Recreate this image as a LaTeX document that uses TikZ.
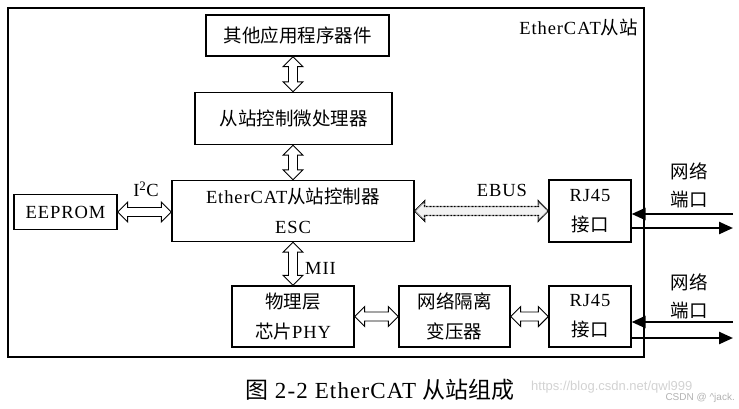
\documentclass[tikz,border=0pt]{standalone}
\usepackage{fontspec}
\setmainfont{Liberation Serif}[LetterSpace=5]
\newfontfamily\cjk{Noto Sans CJK SC}
\newfontfamily\wmfont{Liberation Sans}
\newcommand\zh[1]{{\cjk #1}}
\usetikzlibrary{calc,arrows.meta}
\tikzset{
  box/.style={draw, line width=1.3pt, inner sep=0pt, align=center, font=\fontsize{18.5}{30}\selectfont},
  lbl/.style={inner sep=0pt, font=\fontsize{18.5}{28}\selectfont, align=center},
  dbl/.style={to path={
    (\tikztostart)
    -- ($(\tikztostart)!10pt!(\tikztotarget)!10pt!90:(\tikztotarget)$)
    -- ($(\tikztostart)!10pt!(\tikztotarget)!4.5pt!90:(\tikztotarget)$)
    -- ($(\tikztotarget)!10pt!(\tikztostart)!4.5pt!-90:(\tikztostart)$)
    -- ($(\tikztotarget)!10pt!(\tikztostart)!10pt!-90:(\tikztostart)$)
    -- (\tikztotarget)
    -- ($(\tikztotarget)!10pt!(\tikztostart)!10pt!90:(\tikztostart)$)
    -- ($(\tikztotarget)!10pt!(\tikztostart)!4.5pt!90:(\tikztostart)$)
    -- ($(\tikztostart)!10pt!(\tikztotarget)!4.5pt!-90:(\tikztotarget)$)
    -- ($(\tikztostart)!10pt!(\tikztotarget)!10pt!-90:(\tikztotarget)$)
    -- cycle}},
  dblarrow/.style={dbl, draw, fill=white, line width=0.9pt, line join=miter},
  busarrow/.style={dbl, draw, fill=gray!10, line width=1.4pt, dash pattern=on 0.8pt off 0.6pt, line join=miter},
  netarrow/.style={line width=2.4pt, -{Triangle[length=14pt,width=12pt]}},
}
\begin{document}
\begin{tikzpicture}[x=1pt,y=-1pt]
\useasboundingbox (0,0) rectangle (739,408);
% outer frame
\node[draw, line width=1.3pt, minimum width=636pt, minimum height=349pt, inner sep=0pt] (frame) at (326,182.5) {};
\node[lbl, anchor=east] (slave) at (638,27) {EtherCAT\zh{从站}};

% boxes
\node[box, minimum width=183pt, minimum height=41pt] (app) at (297.5,35.5) {\zh{其他应用程序器件}};
\node[box, minimum width=197pt, minimum height=52pt] (mcu) at (293.5,118.5) {\zh{从站控制微处理器}};
\node[box, minimum width=242pt, minimum height=61pt] (esc) at (293,211) {EtherCAT\zh{从站控制器}\\ESC};
\node[box, minimum width=103pt, minimum height=35pt] (eeprom) at (65.5,212) {EEPROM};
\node[box, minimum width=82pt, minimum height=62pt] (rjA) at (590,211) {RJ45\\\zh{接口}};
\node[box, minimum width=122pt, minimum height=61pt] (phy) at (293,316.5) {\zh{物理层}\\\zh{芯片}PHY};
\node[box, minimum width=111pt, minimum height=61pt] (xfmr) at (454.5,316.5) {\zh{网络隔离}\\\zh{变压器}};
\node[box, minimum width=82pt, minimum height=61pt] (rjB) at (590,316.5) {RJ45\\\zh{接口}};

% vertical double arrows
\path[dblarrow] (app.south -| esc.north) to (mcu.north -| esc.north);
\path[dblarrow] (mcu.south -| esc.north) to (esc.north);
\path[dblarrow] (esc.south) to (phy.north);
\node[lbl, anchor=west] (mii) at (305,268) {MII};

% horizontal double arrows
\path[dblarrow] (eeprom.east) to (eeprom.east -| esc.west);
\node[lbl] (i2c) at (146,189) {I\textsuperscript{2}C};
\path[busarrow] (esc.east |- rjA.west) to (rjA.west);
\node[lbl] (ebus) at (502,190) {EBUS};
\path[dblarrow] (phy.east) to (xfmr.west);
\path[dblarrow] (xfmr.east) to (rjB.west);

% network port arrows
\coordinate (inA) at (733,214);
\coordinate (outA) at (733,228);
\coordinate (inB) at (733,322);
\coordinate (outB) at (733,338);
\draw[netarrow] (inA) -- (inA -| rjA.east);
\draw[netarrow] (outA -| rjA.east) -- (outA);
\draw[netarrow] (inB) -- (inB -| rjB.east);
\draw[netarrow] (outB -| rjB.east) -- (outB);
\node[lbl] (portA) at (689,185) {\zh{网络}\\\zh{端口}};
\node[lbl] (portB) at (689,296) {\zh{网络}\\\zh{端口}};

% caption
\node[inner sep=0pt, font=\fontsize{23}{26}\selectfont] (cap) at (380,390) {\zh{图} 2-2 EtherCAT \zh{从站组成}};
% watermark
\node[inner sep=0pt, anchor=west, text=gray!35, font=\wmfont\fontsize{13}{15}\selectfont] (wm) at (531,387) {https://blog.csdn.net/qwl999};
\node[inner sep=0pt, anchor=east, text=gray!60, font=\wmfont\fontsize{10}{12}\selectfont] (wm2) at (735,398) {CSDN @ \textasciicircum jack.};
\end{tikzpicture}
\end{document}
